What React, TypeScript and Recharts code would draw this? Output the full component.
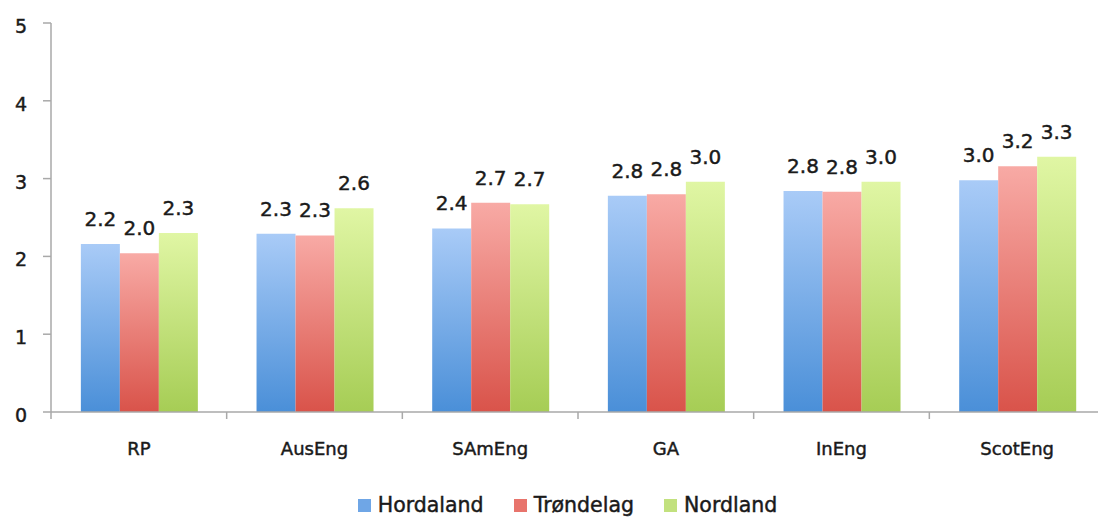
import React from 'react';
import { BarChart, Bar, XAxis, YAxis, Legend, LabelList } from 'recharts';

const categories = ['RP', 'AusEng', 'SAmEng', 'GA', 'InEng', 'ScotEng'];
const hordaland = [2.16, 2.29, 2.36, 2.78, 2.84, 2.98];
const trondelag = [2.04, 2.27, 2.69, 2.8, 2.83, 3.16];
const nordland = [2.3, 2.62, 2.67, 2.96, 2.96, 3.28];
const yTicks = [0, 1, 2, 3, 4, 5];
const seriesNames = ['Hordaland', 'Trøndelag', 'Nordland'];
const seriesKeys = ['hordaland', 'trondelag', 'nordland'];

const data = categories.map((c, i) => ({
  name: c,
  hordaland: hordaland[i],
  trondelag: trondelag[i],
  nordland: nordland[i],
}));

const FONT = '"DejaVu Sans", Verdana, sans-serif';
const TEXT = '#1a1a1a';
const AXIS = '#a9a9a9';
const CHART_W = 1105;
const CHART_H = 518;
const YAXIS_W = 51;
const BAND = (CHART_W - YAXIS_W) / categories.length;
const TS = 0.45;

const gradients = [
  { id: 'gBlue', top: '#a9cbf7', bottom: '#4a8fd8', legend: '#6fa6e6' },
  { id: 'gRed', top: '#f8aaa5', bottom: '#d9534a', legend: '#e8746c' },
  { id: 'gGreen', top: '#e0f6a4', bottom: '#a6cd55', legend: '#c2e17e' },
];

const XTick = (props: any) => {
  const { x, y, payload } = props;
  const half = payload && payload.offset ? payload.offset : BAND / 2;
  return (
    <g>
      <line x1={x - half} x2={x - half} y1={y} y2={y + 7} stroke={AXIS} strokeWidth={1.5} />
      <text x={x} y={y + 43} textAnchor="middle" fontSize={18} fontFamily={FONT} fill={TEXT} stroke={TEXT} strokeWidth={TS}>
        {payload.value}
      </text>
    </g>
  );
};

const YTick = (props: any) => {
  const { x, y, payload } = props;
  return (
    <text x={x} y={y + 10} textAnchor="end" fontSize={19} fontFamily={FONT} fill={TEXT} stroke={TEXT} strokeWidth={TS}>
      {payload.value}
    </text>
  );
};

const LegendContent = () => (
  <div
    style={{
      height: 40,
      boxSizing: 'border-box',
      paddingTop: 14,
      paddingLeft: 30,
      display: 'flex',
      justifyContent: 'center',
      alignItems: 'center',
      fontFamily: FONT,
      fontSize: 20.5,
      color: TEXT,
      WebkitTextStroke: `${TS}px ${TEXT}`,
    }}
  >
    {seriesNames.map((n, i) => (
      <div key={n} style={{ display: 'flex', alignItems: 'center', marginLeft: i === 0 ? 0 : 30 }}>
        <div style={{ width: 13, height: 13, background: gradients[i].legend, marginRight: 7 }} />
        <span>{n}</span>
      </div>
    ))}
  </div>
);

const fmt = (v: any) => Number(v).toFixed(1);

export default function App() {
  return (
    <div style={{ position: 'absolute', left: 0, top: 0, width: 1098, height: 518, overflow: 'hidden', background: '#fff' }}>
      <BarChart
        width={CHART_W}
        height={CHART_H}
        data={data}
        margin={{ top: 23, right: 0, left: 0, bottom: 0 }}
        barCategoryGap="17%"
        barGap={0}
      >
        <defs>
          {gradients.map((g) => (
            <linearGradient key={g.id} id={g.id} x1="0" y1="0" x2="0" y2="1">
              <stop offset="0%" stopColor={g.top} />
              <stop offset="100%" stopColor={g.bottom} />
            </linearGradient>
          ))}
        </defs>
        <XAxis
          dataKey="name"
          height={66}
          tickSize={0}
          tickMargin={0}
          tickLine={false}
          axisLine={{ stroke: AXIS, strokeWidth: 1.5 }}
          tick={<XTick />}
          interval={0}
        />
        <YAxis
          width={YAXIS_W}
          domain={[0, 5]}
          ticks={yTicks}
          tickSize={8}
          tickMargin={16}
          tickLine={{ stroke: AXIS, strokeWidth: 1.5 }}
          axisLine={{ stroke: AXIS, strokeWidth: 1.5 }}
          tick={<YTick />}
          interval={0}
        />
        <Legend verticalAlign="bottom" height={40} content={<LegendContent />} wrapperStyle={{ left: 0, width: CHART_W }} />
        {seriesKeys.map((k, i) => (
          <Bar key={k} dataKey={k} name={seriesNames[i]} fill={`url(#${gradients[i].id})`} isAnimationActive={false}>
            <LabelList
              dataKey={k}
              position="top"
              offset={18}
              formatter={fmt}
              fontSize={20}
              fontFamily={FONT}
              fill={TEXT}
              stroke={TEXT}
              strokeWidth={TS}
            />
          </Bar>
        ))}
      </BarChart>
    </div>
  );
}
